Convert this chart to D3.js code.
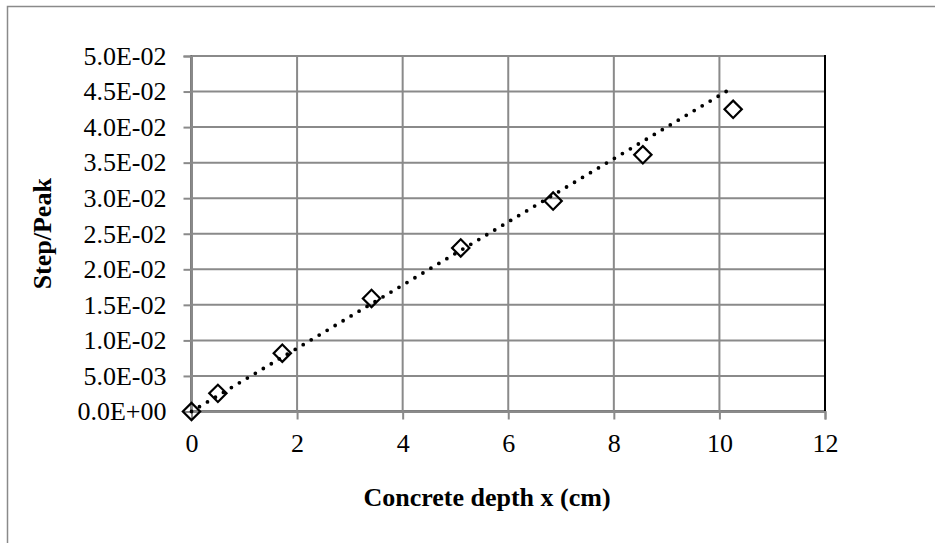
<!DOCTYPE html>
<html>
<head>
<meta charset="utf-8">
<script src="https://cdn.jsdelivr.net/npm/d3@7/dist/d3.min.js"></script>
<style>
  html, body { margin: 0; padding: 0; background: #fff; }
  svg { display: block; }
  text { font-family: "Liberation Serif", "Times New Roman", serif; fill: #000; }
</style>
</head>
<body>
<svg id="chart" width="935" height="543"></svg>
<script>
// Measured depth (cm) and step/peak ratio
const depthCm = [0, 0.5, 1.72, 3.41, 5.1, 6.85, 8.55, 10.26];
const stepPeak = [0, 0.00255, 0.0082, 0.0159, 0.0230, 0.0296, 0.0361, 0.0425];

// Linear trend line end points
const trendX = [0, 10.26];
const trendY = [0, 0.0456];

// Axis ticks
const xTicks = [0, 2, 4, 6, 8, 10, 12];
const yTicks = [0, 0.005, 0.01, 0.015, 0.02, 0.025, 0.03, 0.035, 0.04, 0.045, 0.05];

const svg = d3.select("#chart");
const plot = { left: 191.5, top: 56, right: 825, bottom: 411.5 };

const x = d3.scaleLinear().domain([0, 12]).range([plot.left, plot.right]);
const y = d3.scaleLinear().domain([0, 0.05]).range([plot.bottom, plot.top]);

const gridColor = "#8a8a8a";

// Outer chart frame (runs past the right and bottom edges)
svg.append("rect")
  .attr("x", 7.5).attr("y", 6.5)
  .attr("width", 960).attr("height", 560)
  .attr("fill", "none").attr("stroke", gridColor).attr("stroke-width", 1.5);

// Plot area border
svg.append("rect")
  .attr("x", plot.left).attr("y", plot.top)
  .attr("width", plot.right - plot.left).attr("height", plot.bottom - plot.top)
  .attr("fill", "none").attr("stroke", "#000").attr("stroke-width", 2);

// Gridlines
svg.append("g").selectAll("line").data(yTicks.slice(1)).join("line")
  .attr("x1", plot.left).attr("x2", plot.right - 1)
  .attr("y1", d => y(d)).attr("y2", d => y(d))
  .attr("stroke", gridColor).attr("stroke-width", 2);
svg.append("g").selectAll("line").data(xTicks.slice(1, -1)).join("line")
  .attr("x1", d => x(d)).attr("x2", d => x(d))
  .attr("y1", plot.top + 1).attr("y2", plot.bottom)
  .attr("stroke", gridColor).attr("stroke-width", 2);

// Axes
const fmtY = d => d === 0 ? "0.0E+00" : d3.format(".1e")(d).replace(/e([-+])(\d)$/, "E$10$2").replace("e", "E");

const yAxis = svg.append("g")
  .attr("transform", `translate(${plot.left},0)`)
  .call(d3.axisLeft(y).tickValues(yTicks).tickFormat(fmtY).tickSize(8).tickPadding(17));
const xAxis = svg.append("g")
  .attr("transform", `translate(0,${plot.bottom})`)
  .call(d3.axisBottom(x).tickValues(xTicks).tickFormat(d3.format("d")).tickSize(8).tickPadding(14));

[yAxis, xAxis].forEach(g => {
  g.select(".domain").attr("stroke", gridColor).attr("stroke-width", 2);
  g.selectAll(".tick line").attr("stroke", gridColor).attr("stroke-width", 2);
  g.selectAll(".tick text")
    .attr("font-family", "'Liberation Serif', 'Times New Roman', serif")
    .attr("font-size", 26).attr("fill", "#000");
});

// Dotted trend line
svg.append("path")
  .datum(trendX.map((d, i) => [d, trendY[i]]))
  .attr("d", d3.line().x(d => x(d[0])).y(d => y(d[1])))
  .attr("fill", "none").attr("stroke", "#000")
  .attr("stroke-width", 3.8).attr("stroke-linecap", "round")
  .attr("stroke-dasharray", "0 9.3");

// Diamond markers
const diamond = d3.symbol().type(d3.symbolSquare).size(150);
svg.append("g").selectAll("path").data(depthCm).join("path")
  .attr("d", diamond)
  .attr("transform", (d, i) => `translate(${x(d)},${y(stepPeak[i])}) rotate(45)`)
  .attr("fill", "none").attr("stroke", "#000").attr("stroke-width", 2.2);

// Axis titles
svg.append("text")
  .attr("x", 487).attr("y", 506)
  .attr("text-anchor", "middle")
  .attr("font-weight", "bold").attr("font-size", 26)
  .text("Concrete depth x (cm)");
svg.append("text")
  .attr("transform", `translate(51,${(plot.top + plot.bottom) / 2}) rotate(-90)`)
  .attr("text-anchor", "middle")
  .attr("font-weight", "bold").attr("font-size", 26)
  .text("Step/Peak");
</script>
</body>
</html>
